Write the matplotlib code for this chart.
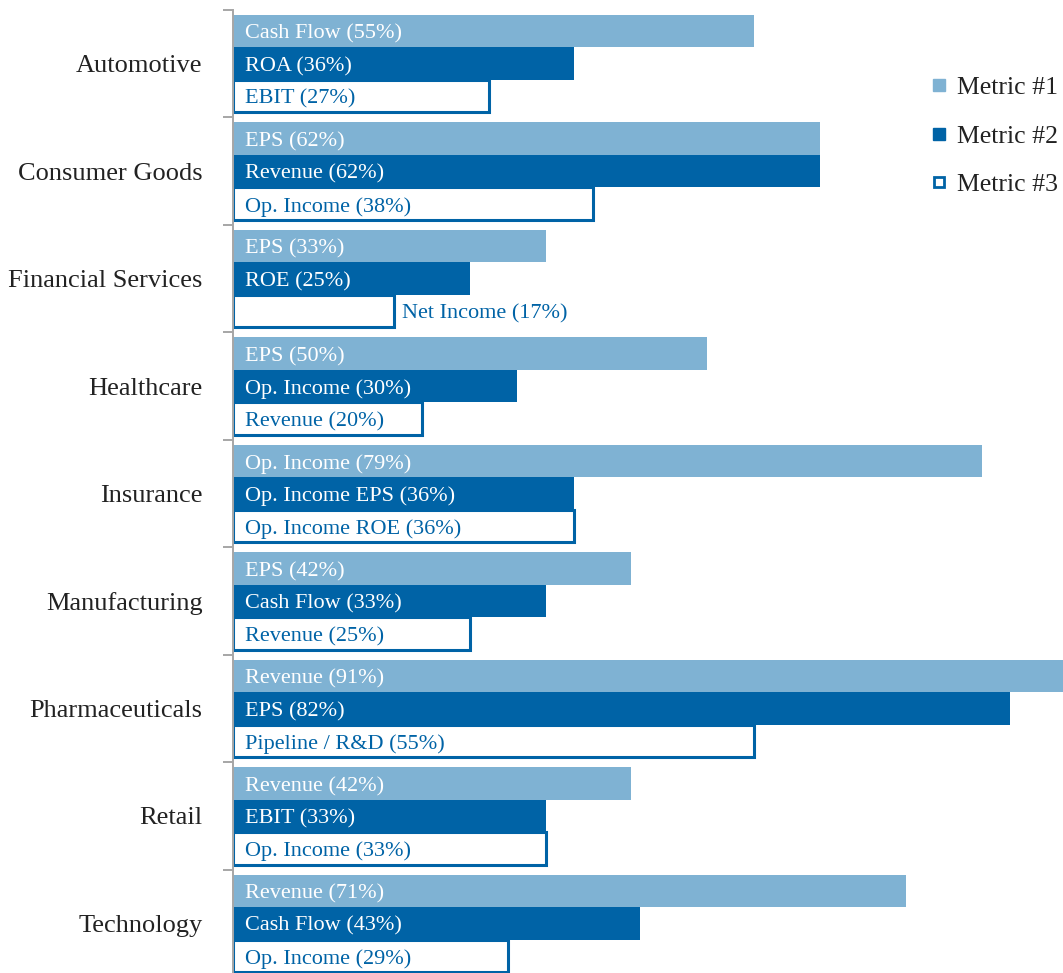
import matplotlib
matplotlib.use("Agg")
import matplotlib.pyplot as plt
from matplotlib.lines import Line2D

plt.rcParams['font.family'] = ['Liberation Serif', 'DejaVu Serif']

categories = ["Automotive", "Consumer Goods", "Financial Services", "Healthcare",
              "Insurance", "Manufacturing", "Pharmaceuticals", "Retail", "Technology"]
metric1_names = ["Cash Flow", "EPS", "EPS", "EPS", "Op. Income", "EPS", "Revenue", "Revenue", "Revenue"]
metric1_values = [55, 62, 33, 50, 79, 42, 91, 42, 71]
metric2_names = ["ROA", "Revenue", "ROE", "Op. Income", "Op. Income EPS", "Cash Flow", "EPS", "EBIT", "Cash Flow"]
metric2_values = [36, 62, 25, 30, 36, 33, 82, 33, 43]
metric3_names = ["EBIT", "Op. Income", "Net Income", "Revenue", "Op. Income ROE", "Revenue",
                 "Pipeline / R&D", "Op. Income", "Op. Income"]
metric3_values = [27, 38, 17, 20, 36, 25, 55, 33, 29]
legend_labels = ["Metric #1", "Metric #2", "Metric #3"]

LIGHT = "#7fb2d3"
DARK = "#0063a6"
TEXT = "#222222"

W, H = 1063, 973
fig = plt.figure(figsize=(W / 100, H / 100), dpi=100)
ax = fig.add_axes([233 / W, -4 / H, 1 - 233 / W, (973 - 10 + 4) / H])

n = len(categories)
bh = 0.302
ys = list(range(n))

series = [
    (metric1_names, metric1_values, dict(color=LIGHT, edgecolor="none"), "white", -bh),
    (metric2_names, metric2_values, dict(color=DARK, edgecolor="none"), "white", 0.0),
    (metric3_names, metric3_values, dict(facecolor="white", edgecolor=DARK, linewidth=2.2), DARK, bh),
]

ax.set_xlim(0, 87.6)
ax.set_ylim(n - 0.5, -0.5)

labels = []
for names, vals, style, tcolor, off in series:
    ax.barh([y + off for y in ys], vals, height=bh, **style)
    for y, name, v in zip(ys, names, vals):
        t = ax.annotate(f"{name} ({v}%)", xy=(0, y + off), xytext=(8.6, -2.2),
                        textcoords="offset points", ha="left", va="center",
                        fontsize=16, color=tcolor)
        labels.append((t, v, y + off))

# Labels that do not fit inside their bar go just past its end
fig.canvas.draw()
renderer = fig.canvas.get_renderer()
for t, v, yy in labels:
    bb = t.get_window_extent(renderer)
    end_px = ax.transData.transform((v, yy))[0]
    if bb.x1 > end_px - 4:
        t.xy = (v, yy)
        t.set_position((5.5, -2.2))
        t.set_color(DARK)

# Axis styling
for s in ["top", "right", "bottom"]:
    ax.spines[s].set_visible(False)
ax.spines["left"].set_color("#a6a6a6")
ax.spines["left"].set_linewidth(1.4)
ax.set_xticks([])
ax.set_yticks([i - 0.5 for i in range(n + 1)])
ax.set_yticklabels([])
ax.tick_params(axis="y", which="major", length=7, width=1.4, color="#a6a6a6", direction="out")
ax.set_yticks(ys, minor=True)
ax.set_yticklabels(categories, minor=True, fontsize=19, color=TEXT)
ax.tick_params(axis="y", which="minor", length=0, pad=22)

handles = [
    Line2D([], [], linestyle="none", marker="s", markersize=8, markerfacecolor=LIGHT, markeredgecolor=LIGHT),
    Line2D([], [], linestyle="none", marker="s", markersize=8, markerfacecolor=DARK, markeredgecolor=DARK),
    Line2D([], [], linestyle="none", marker="s", markersize=6.8, markerfacecolor="white",
           markeredgecolor=DARK, markeredgewidth=2),
]
leg = fig.legend(handles, legend_labels, loc="upper left", bbox_to_anchor=(929 / W, 1 - 76 / H),
                 frameon=False, fontsize=18.5, labelspacing=1.0, handlelength=0.8,
                 handletextpad=0.3, borderaxespad=0, borderpad=0)
for txt in leg.get_texts():
    txt.set_color(TEXT)

fig.savefig("out.png", dpi=100)
